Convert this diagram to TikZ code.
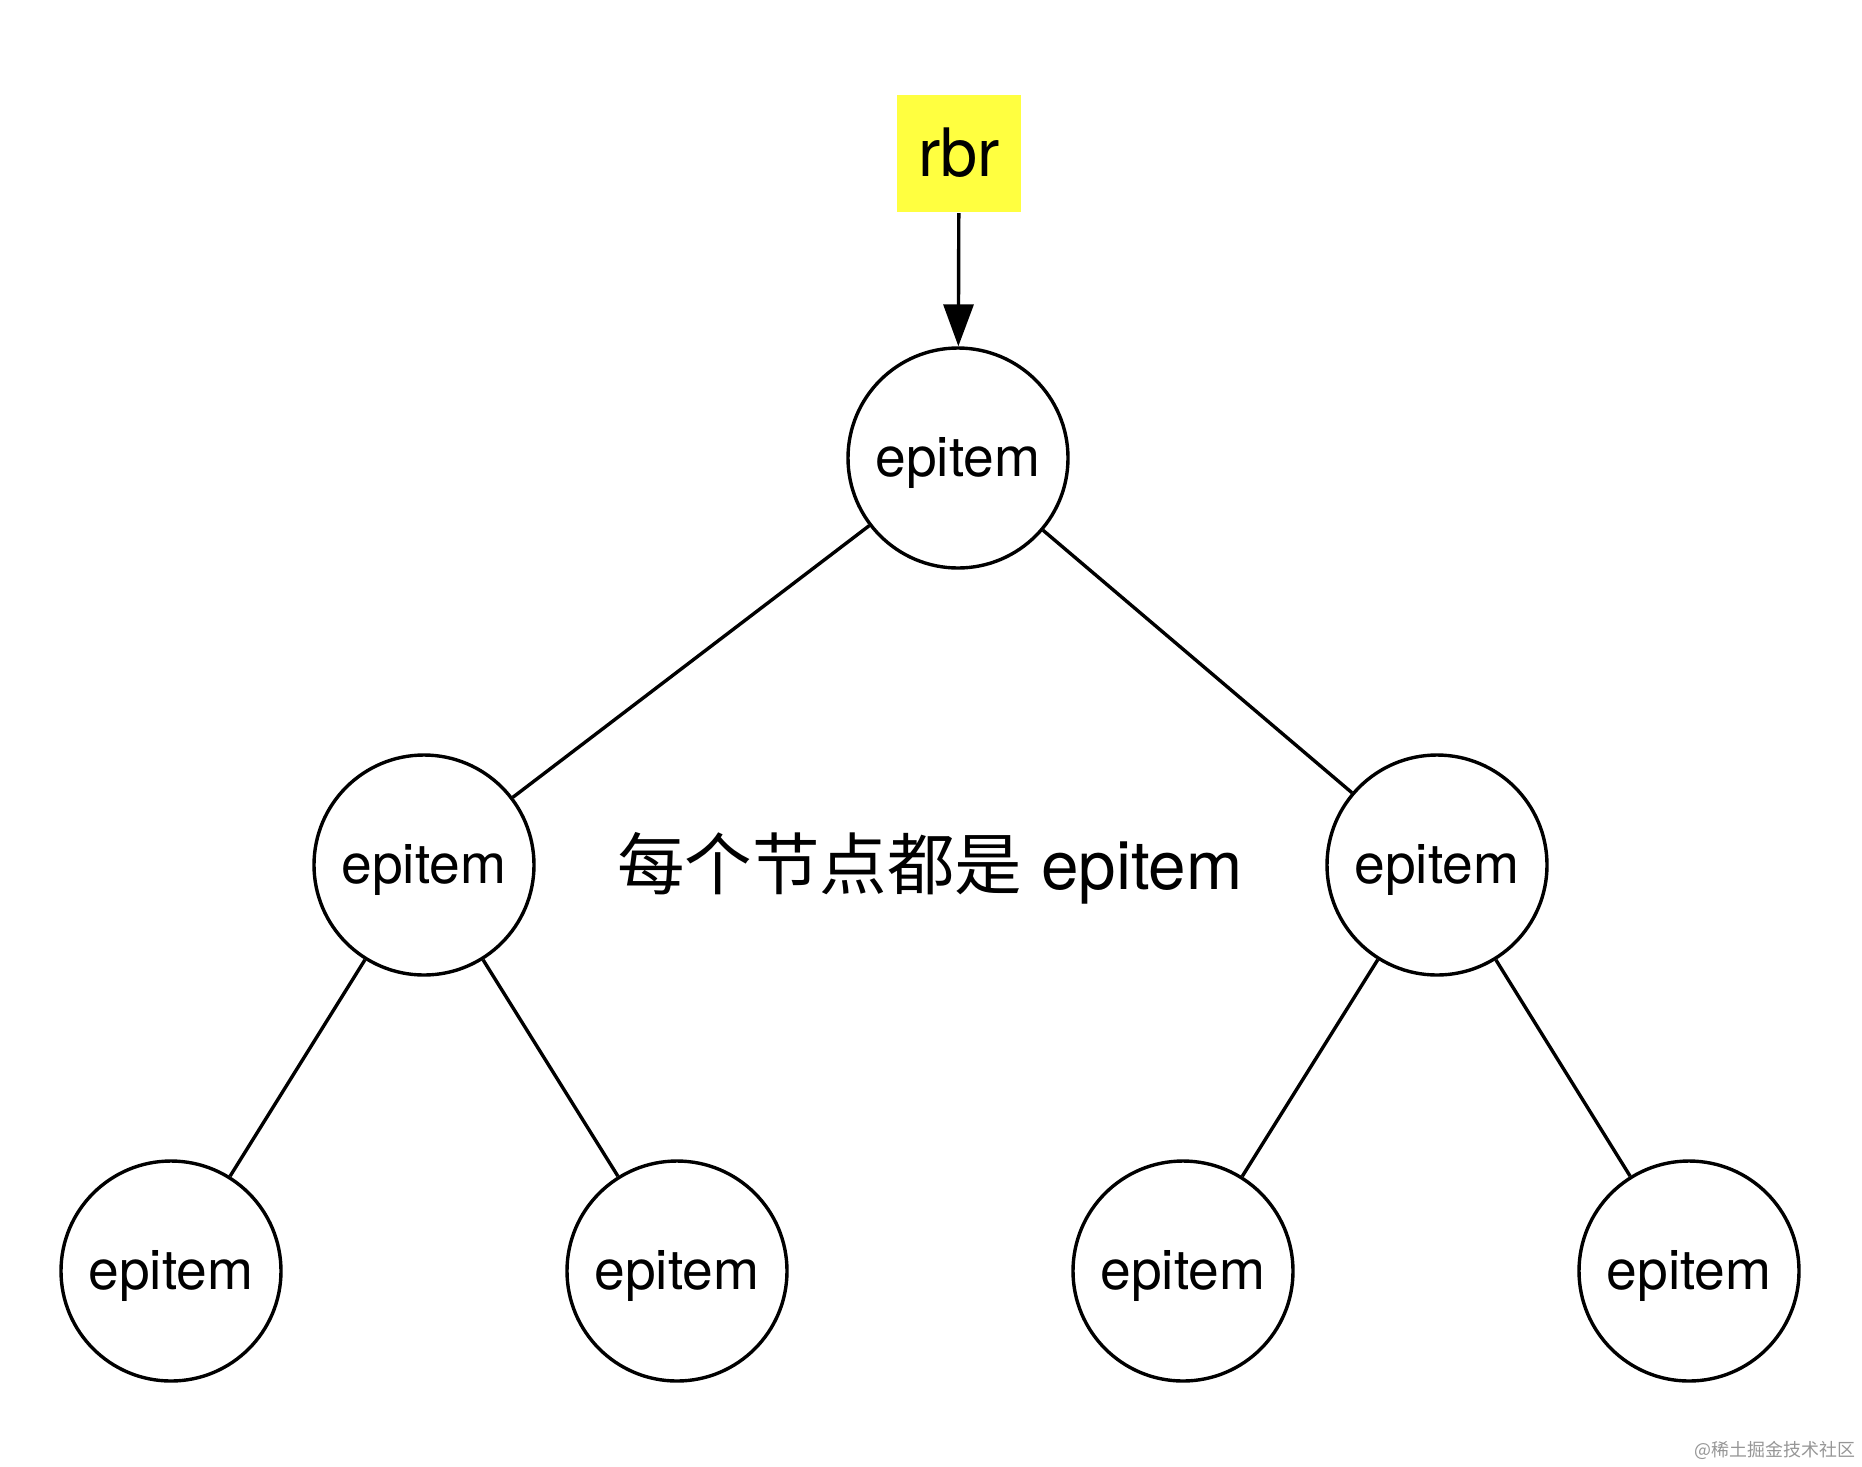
\documentclass[tikz,border=0pt]{standalone}
\usepackage{fontspec}
\setmainfont{TeX Gyre Heros}
\newfontfamily\cjk{Noto Sans CJK SC}
\usetikzlibrary{arrows.meta}
\definecolor{rbryellow}{RGB}{255,255,64}
\definecolor{markgray}{RGB}{150,150,150}
\begin{document}
\begin{tikzpicture}[line width=0.068cm,
	item/.style={circle,draw,minimum size=4.4cm,inner sep=0pt,text height=0.9cm,text depth=0.15cm,font=\fontsize{31.4}{36}\selectfont},
	head/.style={fill=rbryellow,minimum width=2.48cm,minimum height=2.34cm,inner sep=0pt,font=\fontsize{38}{44}\selectfont}]
			\useasboundingbox (0,0) rectangle (37.24,-29.32);
			\node[head] (rbr) at (19.18,-3.06) {rbr};
			\node[item] (root) at (19.16,-9.16) {epitem};
			\node[item] (l) at (8.48,-17.3) {epitem};
			\node[item] (r) at (28.74,-17.3) {epitem};
			\node[item] (ll) at (3.42,-25.42) {epitem};
			\node[item] (lr) at (13.54,-25.42) {epitem};
			\node[item] (rl) at (23.66,-25.42) {epitem};
			\node[item] (rr) at (33.78,-25.42) {epitem};
			\node[font=\fontsize{38.4}{44}\selectfont] (note) at (18.6,-17.36) {{\cjk 每个节点都是} epitem};
			\node[font=\fontsize{10.2}{12}\selectfont\cjk,text=markgray] (mark) at (35.5,-29.0) {@稀土掘金技术社区};
			
			\draw[-{Triangle[length=0.84cm,width=0.6cm]}] (rbr) -- (root);
			\foreach \from/\to in {root/l,root/r,l/ll,l/lr,r/rl,r/rr}
			\draw[] (\from) -- (\to);
			\end{tikzpicture}
\end{document}
